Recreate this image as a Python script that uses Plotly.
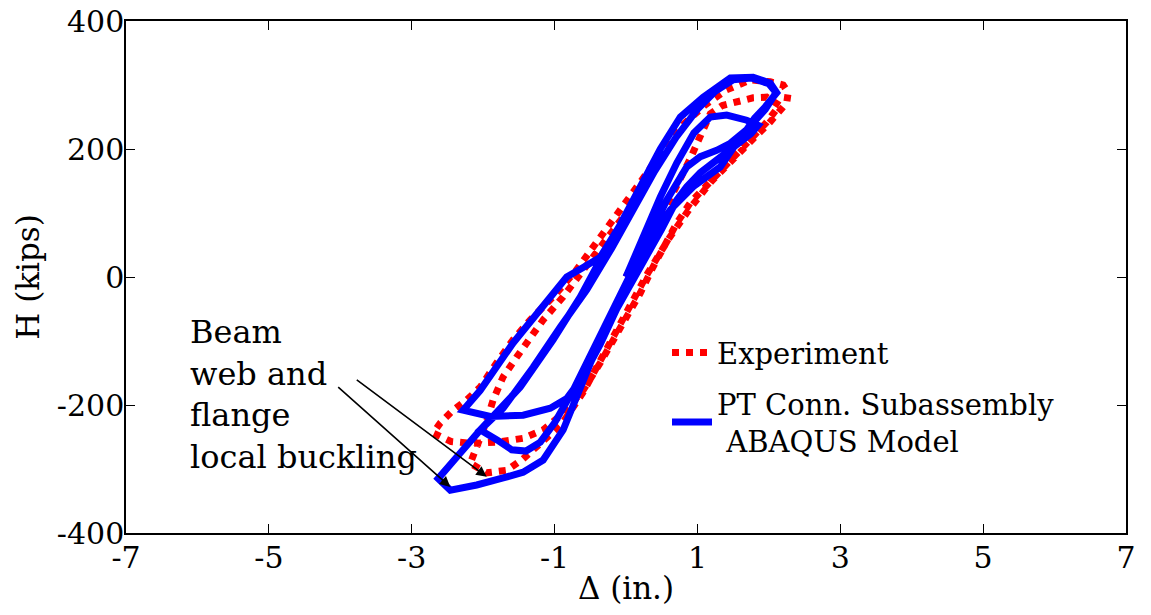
import plotly.graph_objects as go

# ---------------- data ----------------
exp_disp = [0.0, 0.3, 0.6, 0.9, 1.18, 1.35, 1.55, 1.78, 1.97, 2.15,
            1.97, 1.83, 1.64, 1.41, 1.13, 0.9, 0.71, 0.52, 0.38, 0.2, 0.01,
            -0.22, -0.36, -0.6, -0.88, -1.16, -1.44, -1.8, -2.14, -2.45, -2.7,
            -2.6, -2.42, -2.23, -2.04, -1.81, -1.58, -1.34, -1.02, -0.7, -0.4,
            -0.1, 0.2, 0.5, 0.8, 1.1, 1.4, 1.74, 2.02, 2.2, 2.27, 2.25, 2.15,
            2.0, 1.8, 1.5, 1.2, 0.9, 0.6, 0.3, 0.0, -0.3, -0.6, -0.9, -1.2,
            -1.45, -1.67, -1.95, -2.18, -2.05, -1.95, -1.86, -1.72, -1.53,
            -1.34, -1.16, -0.88, -0.6, -0.3, 0.0]
exp_force = [0, 60, 118, 185, 255, 268, 273, 280, 281, 268,
             242, 225, 203, 178, 141, 116, 84, 47, 16, -25, -62,
             -109, -134, -177, -213, -239, -252, -258, -260, -257, -244,
             -228, -208, -192, -172, -134, -98, -67, -31, 10, 55,
             100, 148, 195, 238, 268, 292, 308, 305, 300, 288, 272, 258,
             240, 218, 185, 150, 108, 60, 5, -55, -120, -180, -230, -262,
             -285, -302, -306, -291, -255, -225, -192, -156, -125,
             -94, -67, -31, 10, 55, 100]

fem_disp = [0.0, 0.15, 0.3, 0.48, 0.71, 0.95, 1.18, 1.41, 1.69, 1.85,
            1.75, 1.5, 1.27, 1.04, 0.85, 0.71, 0.5, 0.3, 0.1, -0.13, -0.36,
            -0.6, -0.83, -1.06, -1.44, -1.9, -2.28,
            -2.04, -1.58, -1.25, -0.92, -0.83, -0.6, -0.36, -0.1, 0.2, 0.48,
            0.76, 1.08, 1.46, 1.78, 2.02, 2.11,
            1.95, 1.8, 1.69, 1.46, 1.27, 1.04, 0.85, 0.71, 0.57, 0.42, 0.2,
            -0.13, -0.36, -0.74, -1.0, -1.2, -1.4, -1.6, -1.8, -2.04,
            -1.72, -1.3, -0.92, -0.55, -0.2, 0.1, 0.4, 0.7, 1.0, 1.25, 1.5,
            1.75, 2.0, 2.1,
            1.95, 1.6, 1.32, 0.94, 0.62, 0.35, 0.1, -0.13, -0.5, -0.88,
            -1.16, -1.44, -1.72, -2.09, -2.46, -2.63,
            -2.32, -2.04, -1.48, -1.02, -0.64, -0.36, -0.18, 0.0]
fem_force = [0, 40, 78, 125, 178, 225, 250, 253, 245, 237,
             224, 203, 183, 163, 141, 120, 75, 35, -5, -50, -105,
             -155, -190, -205, -216, -218, -208,
             -177, -103, -56, -9, 0, 15, 31, 78, 140, 200,
             250, 281, 311, 312, 303, 288,
             266, 248, 230, 209, 198, 188, 172, 147, 120, 85, 35,
             -40, -95, -177, -228, -258, -272, -270, -255, -239,
             -205, -141, -78, -20, 45, 105, 165, 218, 262, 290, 308,
             311, 302, 288,
             262, 218, 172, 141, 105, 55, 5, -45, -135, -239,
             -286, -305, -314, -325, -333, -315,
             -275, -239, -172, -98, -31, 27, 58, 95]

x_tick_vals = [-7, -5, -3, -1, 1, 3, 5, 7]
x_tick_text = ["-7", "-5", "-3", "-1", "1", "3", "5", "7"]
y_tick_vals = [-400, -200, 0, 200, 400]
y_tick_text = ["-400", "-200", "0", "200", "400"]

series_names = ["Experiment", "PT Conn. Subassembly<br>\u00a0ABAQUS Model"]
note_text = "Beam<br>web and<br>flange<br>local buckling"
# arrow tips / tails (data units)
arrow_tips_x = [-1.95, -2.46]
arrow_tips_y = [-312, -328]
arrow_tails_x = [-3.79, -4.05]
arrow_tails_y = [-159, -170]

FONT = "DejaVu Serif"

fig = go.Figure()
fig.add_trace(go.Scatter(x=exp_disp, y=exp_force, mode="lines", name=series_names[0],
                         legendgroup="exp",
                         line=dict(color="#ff0000", width=7, dash="dot")))
fig.add_trace(go.Scatter(x=fem_disp, y=fem_force, mode="lines", name=series_names[1],
                         legendgroup="fem",
                         line=dict(color="#0000ff", width=7)))

axis_common = dict(showgrid=False, zeroline=False, showline=True, linecolor="black",
                   linewidth=1.5, mirror="ticks", ticks="inside", ticklen=9,
                   tickcolor="black", tickwidth=1.2, automargin=False,
                   ticklabeloverflow="allow",
                   tickfont=dict(family=FONT, size=30, color="black"))

fig.update_layout(
    width=1151, height=615,
    margin=dict(l=126, r=25, t=21, b=82, pad=0),
    paper_bgcolor="white", plot_bgcolor="white",
    xaxis=dict(range=[-7, 7], tickvals=x_tick_vals, ticktext=x_tick_text,
               title=dict(text="Δ (in.)", font=dict(family=FONT, size=31, color="black"),
                          standoff=4),
               ticklabelstandoff=-3,
               **axis_common),
    yaxis=dict(range=[-400, 400], tickvals=y_tick_vals, ticktext=y_tick_text,
               title=dict(text="H (kips)", font=dict(family=FONT, size=31, color="black"),
                          standoff=8),
               ticklabelstandoff=-6,
               **axis_common),
    legend=dict(x=0.541, y=0.402, xanchor="left", yanchor="top",
                bgcolor="rgba(0,0,0,0)", borderwidth=0, itemwidth=40,
                tracegroupgap=10, traceorder="grouped",
                font=dict(family=FONT, size=29, color="black")),
    showlegend=True,
)

fig.add_annotation(x=-6.13, y=-183, xref="x", yref="y", text=note_text,
                   showarrow=False, xanchor="left", yanchor="middle", align="left",
                   font=dict(family=FONT, size=32, color="black"))
for tx, ty, sx, sy in zip(arrow_tips_x, arrow_tips_y, arrow_tails_x, arrow_tails_y):
    fig.add_annotation(x=tx, y=ty, ax=sx, ay=sy, xref="x", yref="y", axref="x", ayref="y",
                       text="", showarrow=True, arrowhead=2, arrowsize=1.3,
                       arrowwidth=1.6, arrowcolor="black")

# remove the browser's default 8px body margin so the figure fills the window
fig.write_html("out.html", config={"displayModeBar": False},
               post_script="document.body.style.margin='0px';")
